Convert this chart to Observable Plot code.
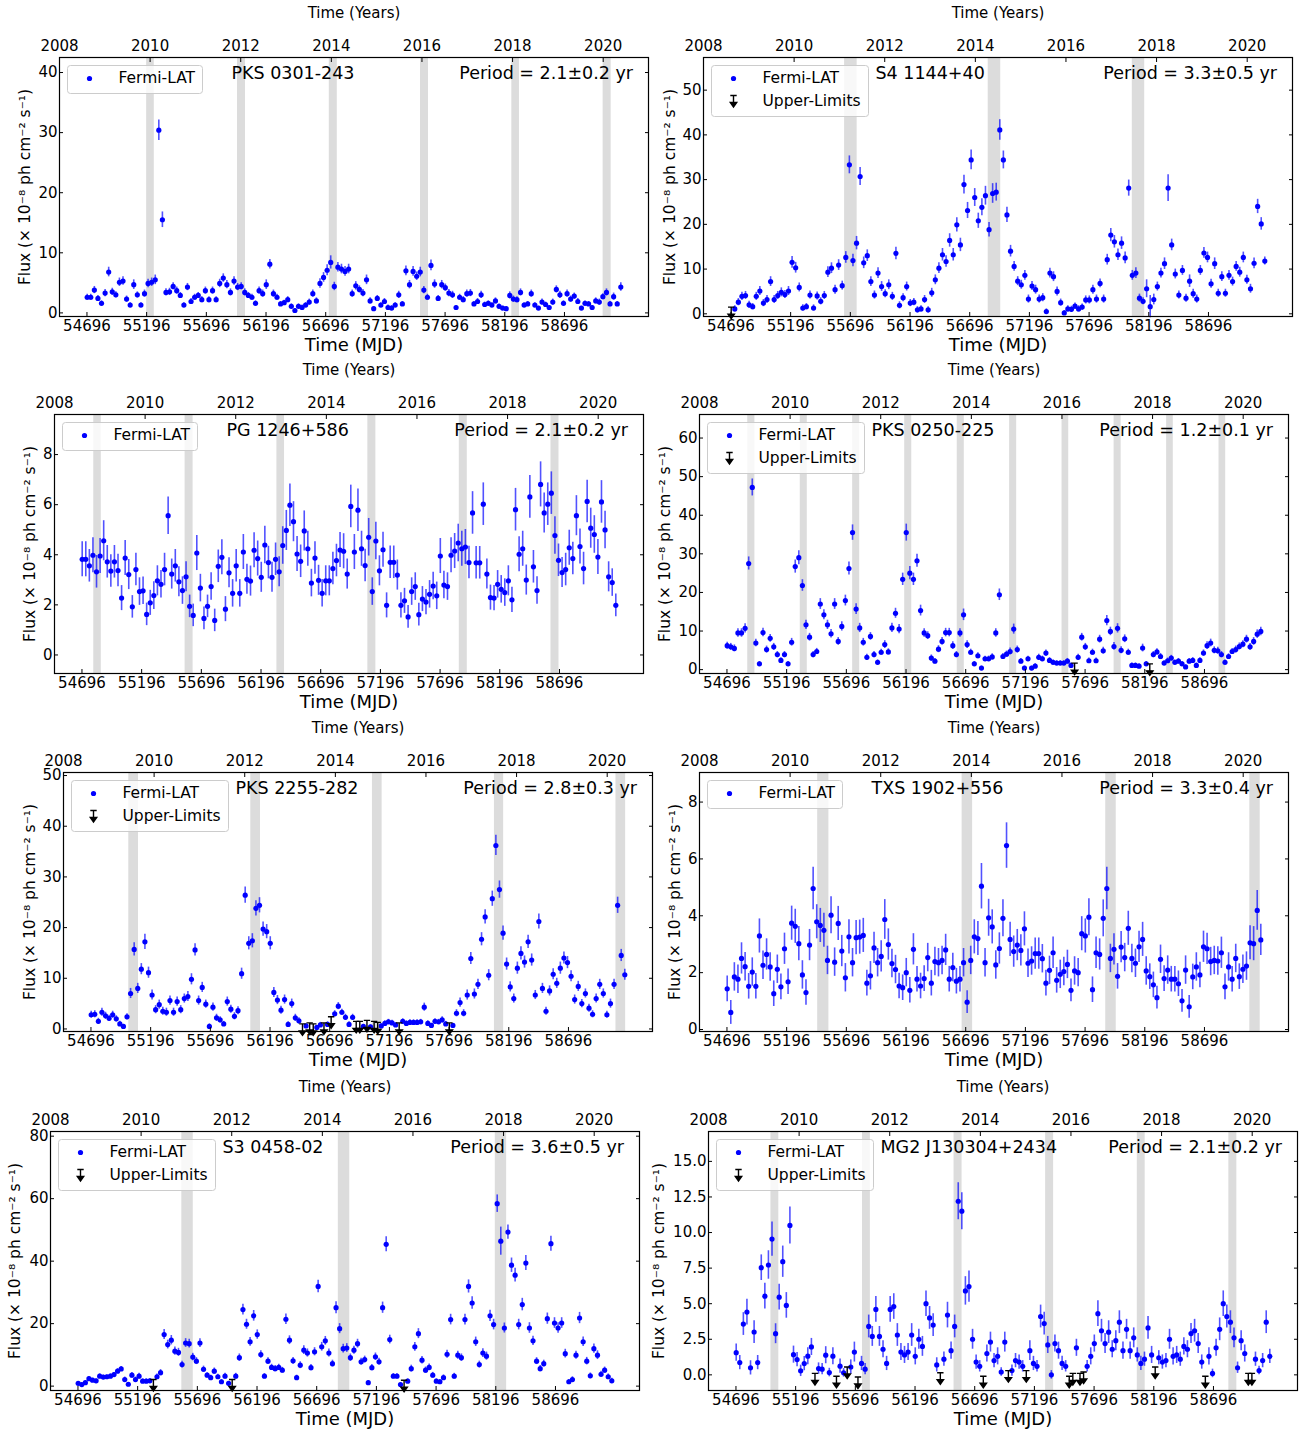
<!DOCTYPE html>
<html>
<head>
<meta charset="utf-8">
<script src="https://cdn.jsdelivr.net/npm/d3@7"></script>
<script src="https://cdn.jsdelivr.net/npm/@observablehq/plot@0.6"></script>
<style>
  body { margin: 0; background: #fff; }
  #page { position: relative; width: 1302px; height: 1433px; font-family: "DejaVu Sans", sans-serif; }
  .panel { position: absolute; }
</style>
</head>
<body>
<div id="page"></div>
<script>
// 30-day bin centres (MJD) shared by all light curves
const binMJD = [
  54698,54728,54758,54788,54818,54848,54878,54908,54938,54968,
  54998,55028,55058,55088,55118,55148,55178,55208,55238,55268,
  55298,55328,55358,55388,55418,55448,55478,55508,55538,55568,
  55598,55628,55658,55688,55718,55748,55778,55808,55838,55868,
  55898,55928,55958,55988,56018,56048,56078,56108,56138,56168,
  56198,56228,56258,56288,56318,56348,56378,56408,56438,56468,
  56498,56528,56558,56588,56618,56648,56678,56708,56738,56768,
  56798,56828,56858,56888,56918,56948,56978,57008,57038,57068,
  57098,57128,57158,57188,57218,57248,57278,57308,57338,57368,
  57398,57428,57458,57488,57518,57548,57578,57608,57638,57668,
  57698,57728,57758,57788,57818,57848,57878,57908,57938,57968,
  57998,58028,58058,58088,58118,58148,58178,58208,58238,58268,
  58298,58328,58358,58388,58418,58448,58478,58508,58538,58568,
  58598,58628,58658,58688,58718,58748,58778,58808,58838,58868,
  58898,58928,58958,58988,59018,59048,59078,59108,59138,59168
];

const mjdTicks = [54696, 55196, 55696, 56196, 56696, 57196, 57696, 58196, 58696];
const yearTicks = [2008, 2010, 2012, 2014, 2016, 2018, 2020];
const xDomain = [54466, 59400];
const yearDomain = [2008, 2021];

// ---- PKS 0301-243 ----
const pks0301Flux = [
  2.6,2.6,3.8,2.4,1.6,3.3,6.8,3.5,3.0,5.1, 5.3,2.3,1.3,4.7,3.0,1.3,3.2,4.9,5.1,5.5,
  30.4,15.5,3.4,3.5,4.4,3.7,2.9,1.3,4.3,1.9, 2.6,2.9,2.2,3.7,2.2,3.7,2.2,4.9,5.8,4.7,
  3.4,5.3,4.3,4.4,3.4,2.9,2.6,1.6,3.7,3.2, 4.7,8.1,3.2,2.6,1.5,1.7,2.2,1.1,0.4,1.1,
  0.9,1.3,1.8,3.2,2.0,4.9,5.9,7.1,8.4,4.4, 7.6,7.3,6.9,7.3,3.2,4.5,3.9,3.3,5.5,2.0,
  0.7,2.4,1.3,1.9,0.9,0.8,1.3,3.0,1.5,7.0, 4.7,6.9,6.1,6.8,3.8,2.6,7.9,4.8,2.4,4.7,
  4.2,3.3,3.0,0.9,2.6,2.2,3.2,3.3,1.5,1.9, 3.0,1.4,1.6,1.3,2.0,1.1,0.8,0.7,2.9,2.3,
  2.2,3.4,1.3,1.5,3.2,1.3,0.8,1.8,1.4,0.9, 1.8,3.9,3.0,1.6,3.2,2.3,2.8,1.9,0.8,1.6,
  1.5,0.9,2.0,1.8,2.7,3.4,1.5,2.7,1.5,4.3
];
const pks0301Err = [
  0.5,0.5,0.6,0.5,0.4,0.6,0.8,0.6,0.5,0.7, 0.7,0.5,0.4,0.8,0.5,0.4,0.6,0.7,0.7,0.8,
  1.7,1.3,0.6,0.6,0.6,0.6,0.5,0.4,0.6,0.5, 0.5,0.5,0.5,0.6,0.5,0.6,0.5,0.7,0.7,0.7,
  0.6,0.7,0.6,0.6,0.6,0.5,0.5,0.4,0.6,0.6, 0.8,0.8,0.6,0.5,0.4,0.4,0.5,0.4,0.3,0.4,
  0.4,0.4,0.5,0.6,0.5,0.8,0.8,0.9,1.1,0.7, 0.8,0.8,0.8,0.8,0.6,0.7,0.6,0.6,0.8,0.5,
  0.3,0.5,0.4,0.5,0.4,0.4,0.4,0.6,0.4,0.8, 0.7,0.8,0.7,0.8,0.6,0.5,0.9,0.7,0.5,0.7,
  0.6,0.6,0.6,0.3,0.5,0.5,0.6,0.6,0.4,0.5, 0.6,0.4,0.4,0.4,0.5,0.4,0.3,0.3,0.6,0.5,
  0.5,0.6,0.4,0.4,0.6,0.4,0.3,0.5,0.4,0.3, 0.5,0.6,0.6,0.4,0.6,0.5,0.5,0.5,0.3,0.4,
  0.4,0.3,0.5,0.5,0.5,0.6,0.4,0.6,0.4,0.7
];
const pks0301Bands = [[55196,55260],[55957,56024],[56726,56793],[57490,57557],[58255,58319],[59020,59087]];

// ---- S4 1144+40 ----
const s41144Flux = [
  null,1.1,2.6,3.9,4.1,2.0,1.6,3.9,5.1,2.4, 3.2,7.2,3.2,4.1,4.8,4.3,5.1,11.5,10.3,5.9,
  1.3,1.6,4.2,1.3,4.0,2.8,4.1,9.3,10.2,5.4, 10.9,6.3,12.6,33.3,11.9,15.8,30.7,11.4,13.0,7.2,
  4.2,9.1,6.1,4.5,6.5,3.9,13.5,1.9,3.6,6.1, 2.4,2.6,0.9,1.1,3.2,0.9,4.7,7.6,10.2,13.2,
  11.7,16.4,13.2,19.9,15.4,28.9,23.1,34.4,26.0,20.8, 23.8,26.4,18.8,26.9,27.2,41.1,34.4,22.1,14.0,10.6,
  7.3,6.5,8.6,3.3,6.2,5.4,3.3,3.6,0.5,9.1, 8.3,5.0,2.5,0.2,1.1,1.0,1.7,1.1,1.5,3.1,
  3.1,5.4,3.3,6.8,3.3,12.1,17.6,16.1,13.2,15.8, 12.5,28.1,8.6,9.1,3.5,2.8,5.6,1.6,3.2,6.1,
  9.1,11.2,28.1,15.4,8.9,4.2,9.7,3.5,7.3,4.5, 3.3,9.7,13.6,12.6,6.7,11.2,4.6,8.3,4.6,8.6,
  7.2,10.6,9.3,12.6,7.6,5.6,11.3,24.0,20.1,11.8
];
const s41144Err = [
  null,0.7,0.8,0.9,0.9,0.8,0.7,0.9,1.0,0.8, 0.9,1.1,0.9,0.9,1.0,0.9,1.0,1.3,1.2,1.0,
  0.7,0.7,0.9,0.7,0.9,0.8,0.9,1.2,1.2,1.0, 1.2,1.0,1.3,2.0,1.4,1.5,2.0,1.3,1.3,1.1,
  0.9,1.2,1.1,0.9,1.1,0.9,1.4,0.8,0.9,1.0, 0.8,0.8,0.7,0.7,0.9,0.7,1.0,1.1,1.2,1.4,
  1.3,1.5,1.4,1.6,1.5,2.1,1.8,2.2,2.0,1.7, 1.9,2.1,1.6,2.2,2.0,2.3,2.0,1.7,1.3,1.1,
  1.0,1.0,1.1,0.9,1.0,1.0,0.9,0.9,0.6,1.1, 1.1,1.0,0.8,0.5,0.7,0.7,0.7,0.7,0.7,0.9,
  0.9,1.0,0.9,1.0,0.9,1.2,1.5,1.4,1.3,1.4, 1.3,1.8,1.1,1.2,0.9,0.8,2.0,2.5,1.2,1.0,
  1.1,1.3,3.0,1.3,1.1,0.9,1.1,0.9,1.4,1.0, 0.9,1.1,1.2,1.2,1.0,1.3,0.9,1.1,0.9,1.1,
  1.0,1.1,1.1,1.2,1.0,1.0,1.2,1.6,1.4,0.9
];
const s41144ULmjd = [54698];
const s41144ULflux = [1.5];
const s41144Bands = [[55648,55753],[56851,56956],[58058,58162]];

// ---- PG 1246+586 ----
const pg1246Flux = [
  3.82,3.82,3.56,3.98,3.32,3.95,4.56,3.72,3.35,3.72, 3.37,2.27,3.87,3.21,1.92,3.41,2.53,2.56,1.62,2.08,
  2.37,2.96,2.82,3.41,5.56,3.23,3.56,2.92,2.57,3.12, 1.94,1.58,4.07,2.67,1.46,1.94,2.73,1.38,3.54,3.90,
  1.83,3.28,2.46,3.56,2.46,4.11,3.02,2.95,4.18,3.85, 3.10,4.39,3.69,3.10,3.82,3.32,4.37,4.97,5.98,5.32,
  4.03,3.74,4.95,4.24,2.87,3.87,2.98,2.46,2.96,2.96, 3.45,3.77,4.19,4.14,3.23,5.93,4.11,5.78,4.24,3.57,
  4.70,2.53,4.55,3.36,4.20,1.98,3.70,3.70,3.19,1.98, 2.16,1.52,2.53,2.73,1.61,2.23,2.11,2.42,2.75,2.36,
  3.95,2.79,2.73,3.98,4.15,4.47,4.24,4.31,3.69,5.67, 3.68,3.68,6.02,3.23,2.29,2.27,2.82,2.62,2.49,2.96,
  2.20,5.80,4.02,4.24,2.99,6.31,3.52,2.57,6.81,5.67, 6.02,6.46,4.77,3.78,3.29,3.41,4.28,3.85,5.56,4.33,
  3.45,6.13,5.06,4.81,3.91,6.11,4.99,3.12,2.89,1.98
];
const pg1246Err = [
  0.7,0.7,0.65,0.7,0.65,0.7,0.8,0.65,0.65,0.65, 0.65,0.5,0.7,0.6,0.45,0.65,0.55,0.55,0.45,0.5,
  0.55,0.6,0.55,0.65,0.75,0.6,0.65,0.6,0.55,0.6, 0.45,0.45,0.7,0.55,0.45,0.45,0.55,0.45,0.65,0.7,
  0.5,0.6,0.55,0.65,0.55,0.7,0.6,0.6,0.7,0.7, 0.6,0.75,0.65,0.6,0.65,0.6,0.75,0.8,0.85,0.8,
  0.7,0.65,0.8,0.7,0.55,0.65,0.6,0.55,0.6,0.6, 0.65,0.65,0.7,0.7,0.6,0.85,0.7,0.85,0.7,0.65,
  0.75,0.55,0.75,0.6,0.7,0.5,0.65,0.65,0.6,0.5, 0.5,0.45,0.55,0.55,0.45,0.5,0.5,0.55,0.55,0.55,
  0.7,0.55,0.55,0.7,0.7,0.75,0.7,0.7,0.65,0.85, 0.65,0.65,0.85,0.6,0.5,0.5,0.55,0.55,0.55,0.6,
  0.5,0.85,0.7,0.7,0.6,0.85,0.65,0.55,0.9,0.8, 0.85,0.85,0.75,0.65,0.6,0.65,0.7,0.65,0.8,0.7,
  0.65,0.85,0.8,0.75,0.7,0.85,0.75,0.6,0.55,0.45
];
const pg1246Bands = [[54795,54858],[55560,55627],[56329,56393],[57091,57158],[57857,57924],[58625,58692]];

// ---- PKS 0250-225 ----
const pks0250Flux = [
  6.2,5.9,5.5,9.5,9.5,10.7,27.5,47.2,6.9,1.5, 9.6,5.2,8.1,5.9,3.9,2.4,3.9,1.5,7.1,26.7,
  29.0,21.8,11.6,8.4,3.9,4.7,17.0,14.2,11.6,9.3, 17.0,7.3,11.2,17.9,26.2,35.5,15.7,10.8,7.1,3.2,
  8.6,3.9,1.9,4.5,6.5,4.6,10.8,14.6,10.5,23.4, 35.5,25.0,23.4,28.2,15.3,9.5,8.8,3.0,2.2,5.3,
  7.3,9.6,9.6,6.2,3.9,9.5,14.2,6.5,4.5,1.5, 3.6,0.4,2.8,2.8,3.3,9.5,19.4,3.4,4.0,4.7,
  10.5,5.2,2.2,0.4,2.8,0.4,0.9,3.2,2.8,4.3, 2.4,1.9,1.7,1.7,1.7,2.2,1.1,null,3.2,8.4,
  5.9,2.3,4.5,2.3,7.9,4.9,12.7,9.9,6.0,10.7, 5.0,8.0,4.5,1.1,1.1,0.9,5.6,1.5,null,3.9,
  4.6,3.4,1.7,2.3,3.0,1.9,2.2,1.5,0.7,2.2, 2.4,1.1,2.4,4.3,6.2,6.9,5.0,4.9,3.9,1.9,
  3.4,4.7,5.2,6.0,6.6,7.9,5.9,7.3,9.2,9.9
];
const pks0250Err = [
  0.9,0.9,0.9,1.1,1.1,1.2,1.7,2.2,1.0,0.6, 1.1,0.9,1.0,0.9,0.8,0.7,0.8,0.6,1.0,1.7,
  1.8,1.5,1.2,1.0,0.8,0.8,1.4,1.3,1.2,1.1, 1.4,1.0,1.2,1.4,1.7,2.0,1.4,1.2,1.0,0.8,
  1.0,0.8,0.6,0.8,1.0,0.8,1.2,1.3,1.2,1.6, 2.2,1.7,1.6,1.7,1.4,1.1,1.0,0.8,0.7,0.9,
  1.0,1.1,1.1,1.0,0.8,1.1,1.5,1.0,0.8,0.6, 0.8,0.5,0.7,0.7,0.8,1.1,1.5,0.8,0.8,0.9,
  1.3,0.9,0.7,0.5,0.7,0.5,0.6,0.8,0.7,0.8, 0.7,0.6,0.6,0.6,0.6,0.7,0.6,null,0.8,1.0,
  0.9,0.7,0.8,0.7,1.0,0.9,1.3,1.1,1.0,1.2, 0.9,1.0,0.8,0.6,0.6,0.6,1.0,0.6,null,0.8,
  0.8,0.8,0.6,0.7,0.7,0.6,0.7,0.6,0.5,0.7, 0.7,0.6,0.7,0.8,1.0,1.0,0.9,0.9,0.8,0.6,
  0.7,0.8,0.9,0.9,0.9,1.0,0.9,1.0,1.1,1.1
];
const pks0250ULmjd = [57608, 58238];
const pks0250ULflux = [1.7, 1.5];
const pks0250Bands = [[54870,54930],[55310,55369],[55749,55808],[56185,56244],[56625,56684],[57064,57123],[57503,57559],[57939,57998],[58379,58435],[58818,58874]];

// ---- PKS 2255-282 ----
const pks2255Flux = [
  2.8,2.9,1.5,3.3,2.6,2.1,2.8,2.0,1.0,0.5, 2.4,7.0,15.7,8.0,11.8,17.2,11.1,6.7,3.8,4.8,
  3.5,3.3,5.6,3.3,5.4,3.8,6.0,6.4,9.8,15.6, 5.6,8.2,4.9,0.5,4.3,2.2,1.8,1.0,5.4,3.9,
  2.5,3.6,10.9,26.4,16.9,17.4,23.8,24.4,19.7,19.2, 16.9,7.2,5.7,3.7,5.8,0.9,5.0,2.2,1.6,null,
  0.6,null,null,0.3,0.8,null,0.9,null,3.0,4.5, 3.3,2.3,0.9,2.3,null,null,0.5,null,0.4,null,
  null,0.6,1.1,1.4,1.2,0.8,null,1.5,1.1,1.3, 1.3,1.3,1.4,4.3,1.1,0.7,1.5,1.4,1.8,1.0,
  null,0.7,3.1,5.2,3.1,6.7,13.9,6.9,8.8,17.7, 22.1,10.6,25.7,36.2,27.5,18.9,12.8,8.3,6.0,12.0,
  14.9,13.2,17.2,13.6,6.7,21.2,8.0,3.5,7.5,10.8, 9.0,12.0,14.0,13.1,10.4,5.8,8.4,5.0,7.0,4.1,
  2.9,6.0,8.8,7.0,2.8,5.0,8.8,24.4,14.5,10.7
];
const pks2255Err = [
  0.7,0.7,0.6,0.8,0.7,0.6,0.7,0.6,0.5,0.4, 0.6,1.0,1.3,1.0,1.1,1.5,1.1,1.0,0.8,0.9,
  0.8,0.8,0.9,0.8,0.9,0.8,0.9,1.0,1.1,1.2, 0.9,1.0,0.8,0.5,0.8,0.7,0.6,0.5,0.9,0.8,
  0.7,0.8,1.1,1.6,1.3,1.4,1.5,1.5,1.4,1.4, 1.3,1.0,0.9,0.8,0.9,0.5,0.9,0.7,0.6,null,
  0.4,null,null,0.3,0.5,null,0.5,null,0.6,0.7, 0.6,0.6,0.5,0.6,null,null,0.4,null,0.4,null,
  null,0.4,0.5,0.5,0.5,0.4,null,0.5,0.5,0.5, 0.5,0.5,0.5,0.8,0.5,0.4,0.5,0.5,0.6,0.5,
  null,0.4,0.7,0.9,0.7,1.0,1.2,1.0,1.0,1.3, 1.4,1.1,1.5,2.0,1.7,1.4,1.2,1.0,0.9,1.2,
  1.3,1.2,1.3,1.2,0.9,1.5,1.0,0.8,1.0,1.1, 1.0,1.2,1.2,1.2,1.1,0.9,1.0,0.8,0.9,0.8,
  0.7,0.9,1.0,0.9,0.7,0.9,1.0,1.6,1.2,1.1
];
const pks2255ULmjd = [56468,56528,56558,56648,56708,56918,56948,57008,57068,57098,57278,57698];
const pks2255ULflux = [1.0,1.2,1.0,1.2,2.4,1.5,1.5,1.7,1.5,1.3,1.2,1.2];
const pks2255Bands = [[55013,55094],[56035,56116],[57054,57135],[58076,58153],[59094,59175]];

// ---- TXS 1902+556 ----
const txs1902Flux = [
  1.43,0.60,1.85,1.77,2.50,2.21,1.52,2.02,1.52,3.29, 2.26,2.64,2.20,1.26,2.12,1.50,2.84,1.68,3.74,3.63,
  3.02,1.92,1.30,2.97,4.96,3.79,3.66,3.49,2.43,4.02, 2.37,3.73,2.76,1.82,3.26,2.35,3.23,3.25,3.31,1.63,
  1.89,2.87,2.35,2.57,3.87,2.99,2.32,2.11,1.53,1.47, 2.00,1.38,2.82,1.77,1.53,1.79,2.53,1.63,2.39,2.35,
  2.43,2.80,1.77,2.18,1.70,1.77,2.35,0.96,2.43,3.26, 3.20,5.04,2.35,3.93,3.61,2.27,2.85,3.91,6.47,3.17,
  2.74,2.97,2.78,3.54,2.33,2.41,2.67,2.67,2.49,1.63, 2.08,2.70,1.73,1.94,2.04,2.29,1.38,2.06,2.00,3.37,
  3.29,3.95,1.40,2.70,2.64,3.91,4.96,2.50,2.82,1.87, 2.90,2.53,3.56,2.50,2.33,2.91,3.17,2.06,1.86,1.57,
  1.12,2.47,1.79,2.09,1.77,1.77,1.61,1.01,2.09,0.80, 1.85,2.20,1.92,2.91,2.84,2.39,2.43,2.41,2.70,1.50,
  2.20,1.77,2.50,1.86,2.12,2.23,3.05,3.02,4.19,3.15
];
const txs1902Err = [
  0.45,0.42,0.5,0.5,0.55,0.5,0.45,0.5,0.45,0.6, 0.5,0.55,0.5,0.45,0.5,0.45,0.55,0.45,0.6,0.6,
  0.6,0.5,0.45,0.55,0.75,0.6,0.6,0.6,0.5,0.65, 0.5,0.6,0.55,0.5,0.6,0.5,0.6,0.6,0.6,0.45,
  0.5,0.55,0.5,0.55,0.7,0.55,0.5,0.5,0.45,0.45, 0.5,0.45,0.55,0.45,0.45,0.45,0.5,0.45,0.5,0.5,
  0.5,0.55,0.45,0.5,0.45,0.45,0.5,0.4,0.5,0.6, 0.6,0.8,0.5,0.65,0.6,0.5,0.55,0.65,0.8,0.6,
  0.55,0.55,0.55,0.6,0.5,0.5,0.55,0.55,0.5,0.45, 0.5,0.55,0.45,0.5,0.5,0.5,0.4,0.5,0.5,0.6,
  0.6,0.65,0.45,0.55,0.55,0.65,0.75,0.5,0.55,0.45, 0.55,0.5,0.6,0.5,0.5,0.55,0.6,0.5,0.45,0.45,
  0.4,0.5,0.45,0.5,0.45,0.45,0.45,0.4,0.5,0.4, 0.45,0.5,0.45,0.55,0.55,0.5,0.5,0.5,0.55,0.45,
  0.5,0.45,0.5,0.45,0.5,0.5,0.6,0.6,0.7,0.55
];
const txs1902Bands = [[55456,55550],[56666,56754],[57869,57957],[59076,59163]];

// ---- S3 0458-02 ----
const s30458Flux = [
  0.9,0.5,1.1,2.4,1.9,1.7,3.2,2.9,3.0,3.2, 3.7,4.8,5.5,2.1,0.6,3.5,2.1,3.2,1.6,1.6,
  1.7,null,3.0,4.3,16.5,13.3,14.7,11.2,10.8,6.9, 13.8,13.6,9.3,8.0,13.8,5.4,3.5,2.7,4.8,3.0,
  1.4,3.2,0.9,null,3.2,9.1,24.5,19.8,14.2,22.5, 16.5,10.1,3.2,8.0,6.0,5.6,6.0,5.1,21.4,14.7,
  8.1,2.7,6.7,11.5,10.6,5.9,11.0,31.9,12.6,14.5, 10.6,7.2,25.1,18.4,12.0,12.2,9.1,11.5,13.6,7.8,
  8.5,1.1,5.9,9.4,7.8,25.1,45.4,14.9,3.2,3.2, 0.5,null,1.6,5.6,12.6,16.8,8.3,5.1,6.0,3.5,
  1.6,1.4,2.7,10.2,21.3,3.2,9.9,9.1,21.3,31.9, 26.6,14.2,6.9,10.6,9.6,22.5,19.7,58.4,46.4,18.6,
  49.3,38.7,35.5,19.7,26.1,39.4,18.6,14.5,8.0,5.6, 7.2,21.6,45.6,20.2,18.6,20.2,10.4,1.4,2.1,9.9,
  21.8,14.2,8.0,3.3,12.0,9.9,3.8,5.1,3.0,1.7
];
const s30458Err = [
  0.5,0.5,0.5,0.6,0.6,0.6,0.7,0.6,0.6,0.7, 0.7,0.8,0.8,0.8,0.5,0.9,0.8,0.9,0.7,0.7,
  0.7,null,0.9,1.0,1.6,1.4,1.5,1.3,1.3,1.1, 1.4,1.4,1.2,1.1,1.4,1.0,0.8,0.8,1.0,0.8,
  0.7,0.9,0.6,null,0.9,1.2,1.7,1.6,1.4,1.7, 1.5,1.2,0.8,1.1,1.0,1.0,1.0,0.9,1.7,1.4,
  1.1,0.8,1.1,1.4,1.3,1.0,1.3,2.0,1.4,1.4, 1.3,1.1,1.9,1.6,1.4,1.4,1.2,1.3,1.4,1.1,
  1.1,0.6,1.0,1.2,1.1,1.8,2.4,1.4,0.8,0.8, 0.5,null,0.7,1.1,1.4,1.6,1.2,1.0,1.1,0.9,
  0.7,0.7,0.9,1.3,1.7,0.9,1.3,1.2,1.7,2.1, 2.0,1.5,1.1,1.4,1.3,1.8,1.7,2.8,4.5,1.6,
  2.3,2.3,2.2,1.7,2.0,2.4,1.7,1.5,1.1,1.0, 1.1,1.8,2.4,1.7,1.7,1.7,1.4,0.7,0.9,1.3,
  1.8,1.5,1.2,0.9,1.5,1.4,1.0,1.0,0.9,0.8
];
const s30458ULmjd = [55328, 55988, 57428];
const s30458ULflux = [2.1, 2.1, 1.9];
const s30458Bands = [[55566,55662],[56877,56973],[58192,58287]];

// ---- MG2 J130304+2434 ----
const mg2Flux = [
  1.56,0.86,3.57,4.41,0.49,3.01,0.86,7.53,5.53,7.72, 9.54,2.89,5.46,7.95,4.88,10.5,1.42,1.07,0.28,0.79,
  1.31,1.96,null,0.44,0.40,1.38,0.16,1.31,null,0.61, 0.14,null,0.55,1.6,null,0.8,0.4,3.4,2.7,4.6,
  2.7,1.8,0.8,4.6,4.8,2.8,1.6,1.4,1.6,2.8, 1.3,2.5,2.0,5.0,4.0,3.5,0.7,null,1.1,4.2,
  1.7,3.4,12.2,11.5,5.9,6.2,2.5,0.9,0.6,null, 1.5,2.3,1.0,1.3,0.2,2.3,null,0.3,1.0,0.9,
  0.6,null,1.7,0.8,0.6,4.1,3.6,2.1,0.0,2.2, 1.7,0.8,0.6,null,null,1.9,null,null,0.6,1.3,
  2.2,4.3,3.1,2.2,3.0,1.8,2.4,3.7,1.7,3.2, 1.7,2.6,1.4,0.8,1.1,3.3,1.4,null,1.2,0.9,
  1.0,2.5,1.3,1.4,1.1,2.0,1.8,2.9,3.1,2.2, 0.9,null,1.3,0.1,1.9,3.2,5.0,4.1,3.7,2.6,
  0.5,2.4,1.5,null,null,1.1,0.3,1.0,3.7,1.3
];
const mg2Err = [
  0.6,0.5,0.8,0.9,0.5,0.8,0.5,0.9,0.9,1.0, 1.2,0.7,0.9,1.1,0.9,1.3,0.6,0.5,0.4,0.5,
  0.6,0.6,null,0.4,0.4,0.6,0.3,0.6,null,0.5, 0.3,null,0.5,0.7,null,0.5,0.4,0.8,0.7,0.9,
  0.7,0.6,0.5,0.9,0.9,0.8,0.6,0.6,0.6,0.8, 0.6,0.7,0.7,0.9,0.8,0.8,0.5,null,0.5,0.9,
  0.6,0.8,1.3,1.3,1.0,1.1,0.7,0.5,0.4,null, 0.6,0.7,0.5,0.6,0.3,0.7,null,0.4,0.5,0.5,
  0.4,null,0.7,0.5,0.4,0.8,0.8,0.6,0.3,0.6, 0.6,0.5,0.4,null,null,0.6,null,null,0.4,0.6,
  0.6,0.9,0.8,0.7,0.8,0.6,0.7,0.8,0.6,0.7, 0.6,0.7,0.5,0.5,0.5,0.8,0.6,null,0.5,0.5,
  0.5,0.7,0.6,0.6,0.5,0.6,0.6,0.7,0.8,0.7, 0.5,null,0.6,0.3,0.6,0.8,0.9,0.8,0.8,0.7,
  0.4,0.7,0.6,null,null,0.5,0.3,0.5,0.8,0.5
];
const mg2ULmjd = [55358,55538,55628,55718,56408,56768,56978,57128,57488,57518,57578,57608,58208,58628,58988,59018];
const mg2ULflux = [0.1,-0.1,0.55,-0.15,0.15,-0.1,0.3,0.3,-0.1,0.1,0.1,0.2,0.55,-0.1,0.1,0.1];
const mg2Bands = [[54989,55055],[55756,55822],[56523,56590],[57290,57357],[58058,58124],[58825,58892]];

// Upper-limit glyph: cap, stem and a downward arrowhead
const ulSymbol = {
  draw(context) {
    context.moveTo(-3.2, 0); context.lineTo(3.2, 0);
    context.moveTo(0, 0); context.lineTo(0, 7);
    context.moveTo(-3.2, 7); context.lineTo(3.2, 7); context.lineTo(0, 11.5); context.closePath();
  }
};

const panels = [
  {name: "PKS 0301-243", period: "Period = 2.1±0.2 yr", flux: pks0301Flux, err: pks0301Err, ulMJD: [], ulFlux: [], bands: pks0301Bands, yDomain: [-0.6, 42.5], yTicks: [0,10,20,30,40], labelDx: -34.5, frame: [59, 57]},
  {name: "S4 1144+40", period: "Period = 3.3±0.5 yr", flux: s41144Flux, err: s41144Err, ulMJD: s41144ULmjd, ulFlux: s41144ULflux, bands: s41144Bands, yDomain: [-0.6, 57.3], yTicks: [0,10,20,30,40,50], labelDx: -33.5, frame: [703, 57]},
  {name: "PG 1246+586", period: "Period = 2.1±0.2 yr", flux: pg1246Flux, err: pg1246Err, ulMJD: [], ulFlux: [], bands: pg1246Bands, yDomain: [-0.74, 9.6], yTicks: [0,2,4,6,8], labelDx: -24.5, frame: [54, 414]},
  {name: "PKS 0250-225", period: "Period = 1.2±0.1 yr", flux: pks0250Flux, err: pks0250Err, ulMJD: pks0250ULmjd, ulFlux: pks0250ULflux, bands: pks0250Bands, yDomain: [-1.0, 66.1], yTicks: [0,10,20,30,40,50,60], labelDx: -34, frame: [699, 414]},
  {name: "PKS 2255-282", period: "Period = 2.8±0.3 yr", flux: pks2255Flux, err: pks2255Err, ulMJD: pks2255ULmjd, ulFlux: pks2255ULflux, bands: pks2255Bands, yDomain: [-0.5, 50.6], yTicks: [0,10,20,30,40,50], labelDx: -33.5, frame: [63, 772]},
  {name: "TXS 1902+556", period: "Period = 3.3±0.4 yr", flux: txs1902Flux, err: txs1902Err, ulMJD: [], ulFlux: [], bands: txs1902Bands, yDomain: [-0.07, 9.04], yTicks: [0,2,4,6,8], labelDx: -24, frame: [699, 772]},
  {name: "S3 0458-02", period: "Period = 3.6±0.5 yr", flux: s30458Flux, err: s30458Err, ulMJD: s30458ULmjd, ulFlux: s30458ULflux, bands: s30458Bands, yDomain: [-1.4, 81.5], yTicks: [0,20,40,60,80], labelDx: -35, frame: [50, 1131]},
  {name: "MG2 J130304+2434", period: "Period = 2.1±0.2 yr", flux: mg2Flux, err: mg2Err, ulMJD: mg2ULmjd, ulFlux: mg2ULflux, bands: mg2Bands, yDomain: [-1.1, 17.1], yTicks: [0,2.5,5,7.5,10,12.5,15], yFormat: d3.format(".1f"), labelDx: -49, frame: [708, 1131]}
];

const FW = 589, FH = 259;            // frame size
const mL = 60, mR = 12, mT = 58, mB = 46;
const page = document.getElementById("page");

// the top axis is a twin axis running 2008 → 2021 across the frame
const yearToX = d3.scaleLinear().domain(yearDomain).range(xDomain);
const yearTickPos = yearTicks.map(yearToX);
const yearLabelAt = new Map(yearTickPos.map((p, i) => [p, String(yearTicks[i])]));

for (const p of panels) {
  const pts = binMJD.map((t, i) => ({t, f: p.flux[i], e: p.err[i]})).filter(d => d.f != null);
  const uls = p.ulMJD.map((t, i) => ({t, f: p.ulFlux[i]}));
  const hasUL = uls.length > 0;
  const legW = hasUL ? 157 : 135, legH = hasUL ? 51 : 28;
  const fmt = p.yFormat || (d => String(d));

  const chart = Plot.plot({
    width: mL + FW + mR,
    height: mT + FH + mB,
    marginLeft: mL, marginRight: mR, marginTop: mT, marginBottom: mB,
    style: "background: transparent; overflow: visible; max-width: none; font-family: 'DejaVu Sans', sans-serif;",
    x: {domain: xDomain},
    y: {domain: p.yDomain},
    marks: [
      Plot.rect(p.bands, {x1: d => d[0], x2: d => d[1], fill: "#dcdcdc"}),
      Plot.ruleX(pts, {x: "t", y1: d => d.f - d.e, y2: d => d.f + d.e, stroke: "blue", strokeOpacity: 0.68, strokeWidth: 1.6}),
      Plot.dot(pts, {x: "t", y: "f", r: 2.6, fill: "blue"}),
      Plot.dot(uls, {x: "t", y: "f", symbol: ulSymbol, fill: "black", stroke: "black", strokeWidth: 1.4}),
      Plot.frame({stroke: "black", strokeWidth: 1.2}),

      // axes with inward ticks on all four sides
      Plot.axisX({anchor: "bottom", ticks: mjdTicks, tickFormat: d => String(d), tickSize: -4, tickPadding: 8, fontSize: 15, label: null}),
      Plot.axisX({anchor: "top", ticks: yearTickPos, tickFormat: d => yearLabelAt.get(d), tickSize: -4, tickPadding: 11, fontSize: 15, label: null}),
      Plot.axisY({anchor: "left", ticks: p.yTicks, tickFormat: fmt, tickSize: -4, tickPadding: 6, fontSize: 15, label: null}),
      Plot.axisY({anchor: "right", ticks: p.yTicks, tickFormat: () => "", tickSize: -4, label: null}),

      // axis titles
      Plot.text(["Time (Years)"], {frameAnchor: "top", dy: -44, lineAnchor: "middle", textAnchor: "middle", fontSize: 15, text: d => d}),
      Plot.text(["Time (MJD)"], {frameAnchor: "bottom", dy: 28.5, lineAnchor: "middle", textAnchor: "middle", fontSize: 18, text: d => d}),
      Plot.text(["Flux (× 10⁻⁸ ph cm⁻² s⁻¹)"], {frameAnchor: "left", dx: p.labelDx, rotate: -90, lineAnchor: "middle", textAnchor: "middle", fontSize: 15.5, text: d => d}),

      // source name and period
      Plot.text([p.name], {frameAnchor: "top-left", dx: 172, dy: 16, textAnchor: "start", lineAnchor: "middle", fontSize: 17.5, text: d => d}),
      Plot.text([p.period], {frameAnchor: "top-right", dx: -15.5, dy: 16, textAnchor: "end", lineAnchor: "middle", fontSize: 17.5, text: d => d}),

      // legend
      Plot.frame({insetLeft: 8, insetTop: 8, insetRight: FW - 8 - legW, insetBottom: FH - 8 - legH, rx: 3, fill: "white", fillOpacity: 0.8, stroke: "#cccccc", strokeWidth: 1}),
      Plot.dot(["Fermi-LAT"], {frameAnchor: "top-left", dx: 30, dy: 21, r: 2.6, fill: "blue"}),
      Plot.text(["Fermi-LAT"], {frameAnchor: "top-left", dx: 59, dy: 21, textAnchor: "start", lineAnchor: "middle", fontSize: 15.5, text: d => d}),
      ...(hasUL ? [
        Plot.dot(["Upper-Limits"], {frameAnchor: "top-left", dx: 30, dy: 38, symbol: ulSymbol, fill: "black", stroke: "black", strokeWidth: 1.4}),
        Plot.text(["Upper-Limits"], {frameAnchor: "top-left", dx: 59, dy: 44, textAnchor: "start", lineAnchor: "middle", fontSize: 15.5, text: d => d})
      ] : [])
    ]
  });

  const holder = document.createElement("div");
  holder.className = "panel";
  holder.style.left = (p.frame[0] - mL) + "px";
  holder.style.top = (p.frame[1] - mT) + "px";
  holder.appendChild(chart);
  page.appendChild(holder);
}
</script>
</body>
</html>
